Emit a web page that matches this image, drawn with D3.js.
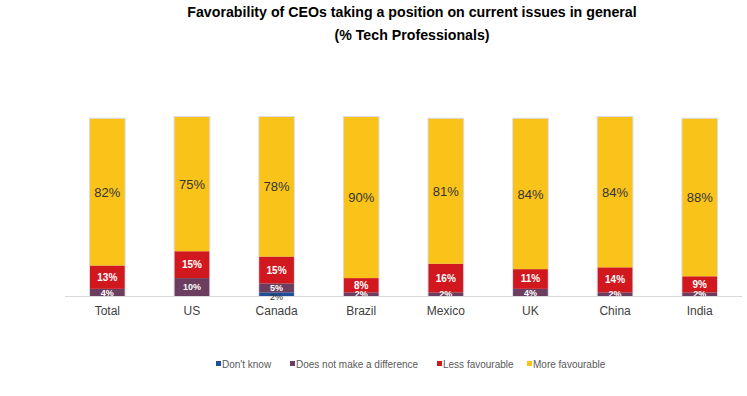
<!DOCTYPE html>
<html>
<head>
<meta charset="utf-8">
<script src="https://cdn.jsdelivr.net/npm/d3@7"></script>
<style>
  body { margin: 0; background: #fff; }
  svg { font-family: "Liberation Sans", Arial, sans-serif; }
</style>
</head>
<body>
<div id="chart"></div>
<script>
// Data
var countries = ["Total", "US", "Canada", "Brazil", "Mexico", "UK", "China", "India"];
var dontKnow = [0, 0, 2, 0, 0, 0, 0, 0];
var noDifference = [4, 10, 5, 2, 2, 4, 2, 2];
var lessFav = [13, 15, 15, 8, 16, 11, 14, 9];
var moreFav = [82, 75, 78, 90, 81, 84, 84, 88];
var seriesNames = ["Don't know", "Does not make a difference", "Less favourable", "More favourable"];

// Placement
var width = 747,
  height = 396,
  baseY = 296,
  topY = 117,
  left = 65,
  right = 742;

var colors = ["#1f4e9a", "#6b3d5e", "#d2181f", "#f9c31a"];
var labelColors = ["#333333", "#ffffff", "#ffffff", "#333333"];
var labelSizes = [9, 9, 10, 13];

var rows = countries.map(function(c, i) {
  return {country: c, dk: dontKnow[i], nd: noDifference[i], lf: lessFav[i], mf: moreFav[i]};
});
var keys = ["dk", "nd", "lf", "mf"];
var stacked = d3.stack().keys(keys)(rows);

var x = d3.scaleBand()
  .domain(countries)
  .range([left, right])
  .paddingInner(0.59)
  .paddingOuter(0.295);
var y = d3.scaleLinear()
  .domain([0, 100])
  .range([baseY, topY]);

var svg = d3.select("#chart")
  .append("svg")
  .attr("width", width)
  .attr("height", height);

// title
svg.append("text")
  .attr("x", 412)
  .attr("y", 17)
  .attr("text-anchor", "middle")
  .attr("font-size", 14.2)
  .attr("font-weight", "bold")
  .attr("fill", "#000")
  .text("Favorability of CEOs taking a position on current issues in general");
svg.append("text")
  .attr("x", 412)
  .attr("y", 40)
  .attr("text-anchor", "middle")
  .attr("font-size", 14.2)
  .attr("font-weight", "bold")
  .attr("fill", "#000")
  .text("(% Tech Professionals)");

svg.append("defs").append("clipPath")
  .attr("id", "plotClip")
  .append("rect")
  .attr("x", 0)
  .attr("y", 0)
  .attr("width", width)
  .attr("height", baseY);

// bar outline (soft shadow edge)
svg.append("g").selectAll("rect")
  .data(rows)
  .enter().append("rect")
  .attr("x", function(d) { return x(d.country) - 1; })
  .attr("y", function(d) { return y(d.dk + d.nd + d.lf + d.mf) - 1; })
  .attr("width", x.bandwidth() + 2)
  .attr("height", function(d) { return baseY - y(d.dk + d.nd + d.lf + d.mf) + 1; })
  .attr("fill", "#dcdde8");

// axis line
svg.append("line")
  .attr("x1", left)
  .attr("x2", right)
  .attr("y1", baseY + 0.5)
  .attr("y2", baseY + 0.5)
  .attr("stroke", "#d9d9d9")
  .attr("stroke-width", 1);

// segments
var layers = svg.append("g").selectAll("g")
  .data(stacked)
  .enter().append("g")
  .attr("fill", function(d, i) { return colors[i]; });

layers.selectAll("rect")
  .data(function(d) { return d; })
  .enter().append("rect")
  .attr("x", function(d) { return x(d.data.country); })
  .attr("y", function(d) { return y(d[1]); })
  .attr("width", x.bandwidth())
  .attr("height", function(d) { return y(d[0]) - y(d[1]); });

// segment labels
stacked.forEach(function(layer, li) {
  var g = svg.append("g");
  if (li > 0) g.attr("clip-path", "url(#plotClip)");
  g.selectAll("text")
    .data(layer.filter(function(d) { return d[1] - d[0] > 0; }))
    .enter().append("text")
    .attr("x", function(d) { return x(d.data.country) + x.bandwidth() / 2; })
    .attr("y", function(d) { return (y(d[0]) + y(d[1])) / 2 + (li == 0 ? 3 : 0); })
    .attr("dy", "0.35em")
    .attr("text-anchor", "middle")
    .attr("font-size", labelSizes[li])
    .attr("font-weight", li == 1 || li == 2 ? "bold" : "normal")
    .attr("fill", labelColors[li])
    .text(function(d) { return (d[1] - d[0]) + "%"; });
});

// x axis labels
var xAxis = d3.axisBottom(x).tickSize(0).tickPadding(10);
svg.append("g")
  .attr("transform", "translate(0," + baseY + ")")
  .call(xAxis)
  .call(function(g) { g.select(".domain").remove(); })
  .selectAll("text")
  .attr("font-size", 12)
  .attr("font-family", "Liberation Sans, Arial, sans-serif")
  .attr("fill", "#404040");

// legend
var legendX = [216, 290, 437, 527];
var legend = svg.append("g").selectAll("g")
  .data(seriesNames)
  .enter().append("g")
  .attr("transform", function(d, i) { return "translate(" + legendX[i] + ",364)"; });
legend.append("rect")
  .attr("x", 0)
  .attr("y", -3)
  .attr("width", 5)
  .attr("height", 5)
  .attr("fill", function(d, i) { return colors[i]; });
legend.append("text")
  .attr("x", 6)
  .attr("y", 0)
  .attr("dy", "0.35em")
  .attr("font-size", 10)
  .attr("fill", "#595959")
  .text(function(d) { return d; });
</script>
</body>
</html>
